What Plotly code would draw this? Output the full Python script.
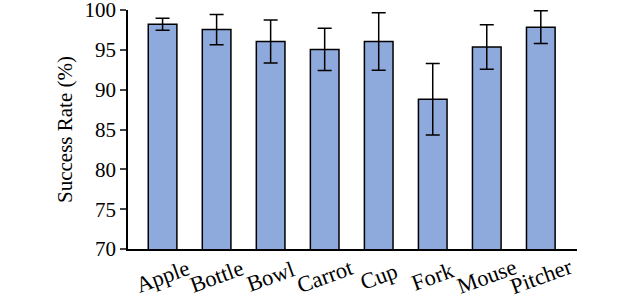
import plotly.graph_objects as go

categories = ["Apple", "Bottle", "Bowl", "Carrot", "Cup", "Fork", "Mouse", "Pitcher"]
success = [98.2, 97.55, 96.05, 95.05, 96.05, 88.8, 95.35, 97.85]
errors = [0.75, 1.9, 2.7, 2.65, 3.6, 4.5, 2.8, 2.05]
y_ticks = [70, 75, 80, 85, 90, 95, 100]

font = "Liberation Serif, Times New Roman, serif"
xs = list(range(len(categories)))

fig = go.Figure(go.Bar(
    x=xs,
    y=success,
    width=0.53,
    marker=dict(color="#8EA9DB", line=dict(color="black", width=1.5)),
    error_y=dict(type="data", array=errors, color="black", thickness=1.5, width=7),
))
for xi, name in zip(xs, categories):
    fig.add_annotation(
        x=xi, y=0, xref="x", yref="paper", text=name, showarrow=False,
        textangle=-20, xanchor="center", yanchor="middle", yshift=-27,
        font=dict(family=font, size=22.5, color="black"),
    )
fig.update_layout(
    width=640, height=296,
    margin=dict(l=128, r=63, t=10, b=47),
    plot_bgcolor="white", paper_bgcolor="white",
    font=dict(family=font, size=21, color="black"),
    showlegend=False,
)
fig.update_xaxes(
    tickvals=xs, showticklabels=False,
    range=[-0.64, 7.67], showline=True, linecolor="black", linewidth=1.5,
    ticks="", showgrid=False, zeroline=False, automargin=False,
)
fig.update_yaxes(
    range=[70, 100], tickvals=y_ticks, showline=True, linecolor="black", linewidth=1.5,
    ticks="outside", ticklen=6, tickwidth=1.5, showgrid=False, zeroline=False,
    title=dict(text="Success Rate (%)", font=dict(size=21), standoff=6),
    tickfont=dict(size=21), automargin=False, ticklabeloverflow="allow",
)
fig.write_html(
    "out.html",
    config={"displayModeBar": False},
    post_script="document.body.style.margin='0';document.body.style.overflow='hidden';",
)
